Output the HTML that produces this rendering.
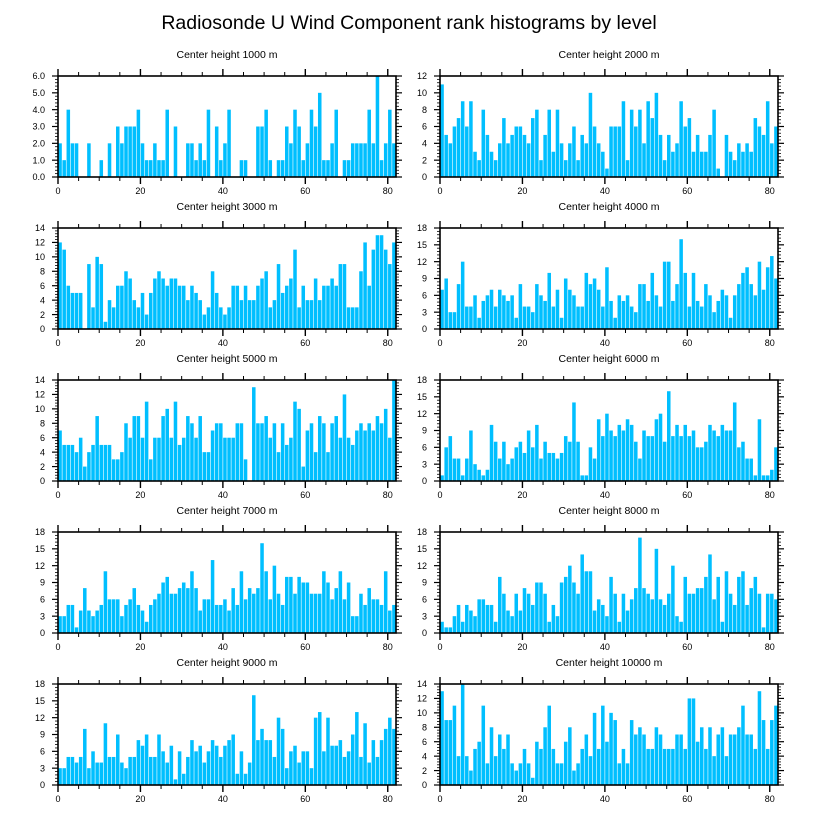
<!DOCTYPE html>
<html><head><meta charset="utf-8"><style>
html,body{margin:0;padding:0;background:#fff;}
svg{display:block;font-family:"Liberation Sans",Arial,sans-serif;}
</style></head><body>
<svg id="chart" width="818" height="824" viewBox="0 0 818 824" xmlns="http://www.w3.org/2000/svg">
<text x="409" y="29" text-anchor="middle" font-size="19.5" fill="#000">Radiosonde U Wind Component rank histograms by level</text>
</svg>
<script>
const panelTitles = ["Center height 1000 m","Center height 2000 m","Center height 3000 m","Center height 4000 m","Center height 5000 m","Center height 6000 m","Center height 7000 m","Center height 8000 m","Center height 9000 m","Center height 10000 m"];
const xTicks = [0,20,40,60,80];
const yMax1 = 6, yMax2 = 12, yMax3 = 14, yMax4 = 18;
const yTicks1 = ["0.0","1.0","2.0","3.0","4.0","5.0","6.0"];
const yTicks2 = [0,2,4,6,8,10,12];
const yTicks3 = [0,2,4,6,8,10,12,14];
const yTicks4 = [0,3,6,9,12,15,18];
const h1000 = [2,1,4,2,2,0,0,2,0,0,1,0,2,0,3,2,3,3,3,4,2,1,1,2,1,1,4,0,3,0,0,2,2,1,2,1,4,0,3,1,2,4,0,0,1,1,0,0,3,3,4,1,0,1,1,3,2,4,3,1,2,4,3,5,1,1,2,4,0,1,1,2,2,2,2,4,2,6,1,2,4,2];
const h2000 = [11,5,4,6,7,9,6,9,3,2,8,5,3,2,4,7,4,5,6,6,5,4,7,8,2,5,8,3,8,4,2,4,6,2,5,4,10,6,4,3,1,6,6,6,9,2,8,6,8,4,9,7,10,5,2,5,3,4,9,6,7,3,5,3,3,5,8,1,0,5,3,2,4,3,4,3,7,6,5,9,4,6];
const h3000 = [12,11,6,5,5,5,0,9,3,10,9,1,4,3,6,6,8,7,4,3,5,2,5,7,8,7,6,7,7,6,6,4,6,5,4,2,3,8,5,3,2,3,6,6,4,6,4,4,6,7,8,3,4,9,5,6,7,11,3,6,4,4,7,4,6,6,7,6,9,9,3,3,3,8,12,6,11,13,13,11,9,12];
const h4000 = [7,9,3,3,8,12,4,4,6,2,5,6,7,4,7,6,5,6,2,8,4,4,3,8,6,5,10,4,7,2,9,7,6,4,4,10,8,9,7,4,11,5,2,6,5,6,4,3,8,8,5,10,6,4,12,12,5,8,16,10,4,10,5,4,8,6,3,5,7,6,2,6,8,10,11,8,6,12,7,11,13,9];
const h5000 = [7,5,5,5,4,6,2,4,5,9,5,5,5,3,3,4,8,6,9,9,6,11,3,6,6,9,10,6,11,5,6,9,8,6,9,4,4,7,8,8,6,6,6,8,8,3,0,13,8,8,9,6,8,4,8,5,6,11,10,2,7,8,4,9,8,4,8,9,6,12,6,5,7,8,7,8,7,9,8,10,6,14];
const h6000 = [1,6,8,4,4,1,4,9,3,2,1,2,10,7,4,7,3,4,6,7,5,9,6,10,4,7,5,5,4,5,8,7,14,7,1,1,6,4,11,8,12,9,8,10,9,11,10,7,4,9,8,8,11,12,7,16,8,10,8,10,8,9,6,6,7,10,9,8,10,9,9,14,6,7,4,4,1,11,1,1,2,6];
const h7000 = [3,3,5,5,1,4,8,4,3,4,5,11,6,6,6,3,5,6,8,5,4,2,5,6,7,9,10,7,7,8,9,8,11,8,4,6,6,13,5,5,6,4,8,5,11,6,8,7,8,16,11,6,12,7,5,10,10,7,10,9,9,7,7,7,11,9,6,8,11,6,9,3,3,7,5,8,6,6,5,11,4,5];
const h8000 = [2,1,1,3,5,2,5,4,3,6,6,5,5,2,10,7,4,3,7,4,8,7,5,9,9,7,2,5,3,9,10,12,9,7,14,11,11,4,6,5,3,10,7,2,7,4,6,8,17,8,7,6,15,6,5,7,12,3,2,10,7,7,8,8,10,14,6,10,2,11,7,5,10,11,5,8,10,7,1,7,7,6];
const h9000 = [3,3,5,5,4,5,10,3,6,4,4,11,5,5,9,4,3,5,5,8,7,9,5,5,9,6,4,7,1,6,2,5,8,6,7,4,6,8,7,5,7,8,9,2,6,2,4,16,8,10,8,8,5,12,10,3,6,7,4,6,6,3,12,13,6,12,7,7,8,5,6,9,13,5,11,4,8,5,8,10,12,10];
const h10000 = [13,9,9,11,4,14,4,2,5,6,11,3,8,4,7,5,7,3,2,3,5,3,1,6,5,8,11,5,3,3,6,8,2,3,5,7,4,10,5,11,6,10,9,3,5,3,9,7,8,7,5,5,8,7,5,5,5,7,7,5,12,12,6,8,5,8,4,7,8,4,7,7,8,11,7,7,5,13,9,5,9,11];

const NS = "http://www.w3.org/2000/svg";
const svg = document.getElementById('chart');
function mk(tag, attrs, parent){
  const e = document.createElementNS(NS, tag);
  for (const k in attrs) e.setAttribute(k, attrs[k]);
  (parent||svg).appendChild(e);
  return e;
}
const series = [h1000,h2000,h3000,h4000,h5000,h6000,h7000,h8000,h9000,h10000];
const yMaxes = [yMax1,yMax2,yMax3,yMax4,yMax3,yMax4,yMax4,yMax4,yMax4,yMax3];
const yTickSets = [yTicks1,yTicks2,yTicks3,yTicks4,yTicks3,yTicks4,yTicks4,yTicks4,yTicks4,yTicks3];
const lefts = [58, 440];
const tops = [76, 228, 380, 532, 684];
const PW = 338, PH = 101, XMAX = 82;

for (let p = 0; p < 10; p++) {
  const col = p % 2, row = Math.floor(p/2);
  const L = lefts[col], T = tops[row], B = T + PH, R = L + PW;
  const ymax = yMaxes[p];
  const xs = v => L + v / XMAX * PW;
  const ys = v => B - v / ymax * PH;
  const g = mk('g', {});
  
  
  const t = mk('text', {x: (L+R)/2, y: T - 18, 'text-anchor': 'middle', 'font-size': 10.5, fill: '#000'}, g);
  
  
  t.textContent = panelTitles[p];
  const data = series[p];
  for (let i = 0; i < data.length; i++) {
    if (data[i] <= 0) continue;
    const x0 = xs(i), x1 = xs(i+1);
    const r = mk('rect', {x: x0 + 0.3, y: ys(data[i]), width: x1 - x0 - 0.6, height: B - ys(data[i]), fill: '#00bfff'}, g);
    
    
  }
  const frame = mk('rect', {x: L, y: T, width: PW, height: PH, fill: 'none', stroke: '#000', 'stroke-width': 1.6}, g);
  
  
  for (let v = 0; v <= 80; v += 5) {
    const major = v % 20 === 0;
    const len = major ? 7 : 4;
    const x = xs(v);
    mk('line', {x1: x, x2: x, y1: B, y2: B + len, stroke: '#000', 'stroke-width': major ? 1.4 : 1}, g);
    mk('line', {x1: x, x2: x, y1: T, y2: T - len, stroke: '#000', 'stroke-width': major ? 1.4 : 1}, g);
  }
  xTicks.forEach(v => {
    const tx = mk('text', {x: xs(v), y: B + 17, 'text-anchor': 'middle', 'font-size': 9, fill: '#000'}, g);
    
    
    tx.textContent = v;
  });
  const ticks = yTickSets[p];
  const step = ymax / (ticks.length - 1);
  for (let k = 0; k < ticks.length; k++) {
    const v = k * step, y = ys(v);
    mk('line', {x1: L, x2: L - 6, y1: y, y2: y, stroke: '#000', 'stroke-width': 1.2}, g);
    mk('line', {x1: R, x2: R + 6, y1: y, y2: y, stroke: '#000', 'stroke-width': 1.2}, g);
    if (k < ticks.length - 1) {
      for (let m = 1; m < 5; m++) {
        const ym = ys(v + step * m / 5);
        mk('line', {x1: L, x2: L - 3, y1: ym, y2: ym, stroke: '#000', 'stroke-width': 0.8}, g);
        mk('line', {x1: R, x2: R + 3, y1: ym, y2: ym, stroke: '#000', 'stroke-width': 0.8}, g);
      }
    }
    const ty = mk('text', {x: L - 13, y: y + 3.2, 'text-anchor': 'end', 'font-size': 9, fill: '#000'}, g);
    
    
    ty.textContent = ticks[k];
  }
}
</script>
</body></html>
